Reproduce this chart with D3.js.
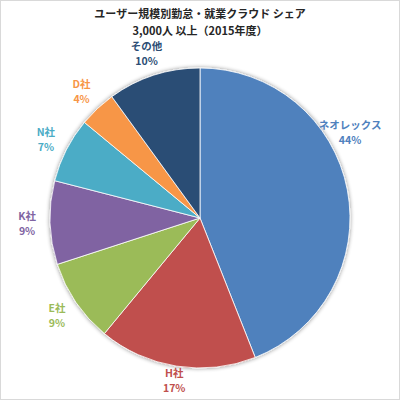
<!DOCTYPE html>
<html>
<head>
<meta charset="utf-8">
<script src="https://cdn.jsdelivr.net/npm/d3@7"></script>
<style>
  body { margin: 0; background: #fff; }
  svg { display: block; }
</style>
</head>
<body>
<svg width="400" height="400"></svg>
<script>
// data
var names = ["ネオレックス", "H社", "E社", "K社", "N社", "D社", "その他"];
var shares = [44, 17, 9, 9, 7, 4, 10];
var colors = ["#4F81BD", "#C0504D", "#9BBB59", "#8064A2", "#4BACC6", "#F79646", "#2C4D75"];
var titleLines = ["ユーザー規模別勤怠・就業クラウド シェア", "3,000人 以上（2015年度）"];

var width = 400, height = 400;
var cx = 200, cy = 218, radius = 150, labelRadius = 173;
var font = "'Noto Sans CJK JP', 'Noto Sans', sans-serif";

var svg = d3.select("svg");

// outer frame
svg.append("rect")
    .attr("x", 0.5).attr("y", 0.5)
    .attr("width", width - 1).attr("height", height - 1)
    .attr("fill", "#fff")
    .attr("stroke", "#d9d9d9");

// title
svg.append("g").selectAll("text")
    .data(titleLines)
  .enter().append("text")
    .attr("x", width / 2)
    .attr("y", function (d, i) { return 18 + i * 17; })
    .attr("text-anchor", "middle")
    .attr("font-family", font)
    .attr("font-size", 11)
    .attr("font-weight", "bold")
    .attr("fill", "#262626")
    .text(function (d) { return d; });

var data = names.map(function (n, i) { return {name: n, value: shares[i], color: colors[i]}; });

var pie = d3.pie()
    .sort(null)
    .value(function (d) { return d.value; });

var arc = d3.arc().innerRadius(0).outerRadius(radius);

var defs = svg.append("defs");
var filter = defs.append("filter").attr("id", "shadow")
    .attr("x", "-10%").attr("y", "-10%").attr("width", "120%").attr("height", "120%");
filter.append("feGaussianBlur").attr("in", "SourceAlpha").attr("stdDeviation", 2);
filter.append("feOffset").attr("dx", 0).attr("dy", 0).attr("result", "blur");
filter.append("feComponentTransfer").append("feFuncA").attr("type", "linear").attr("slope", 0.45);
var merge = filter.append("feMerge");
merge.append("feMergeNode");
merge.append("feMergeNode").attr("in", "SourceGraphic");

var main = svg.append("g")
    .attr("transform", "translate(" + cx + "," + cy + ")");

var arcs = pie(data);

main.append("g")
    .attr("filter", "url(#shadow)")
  .selectAll("path")
    .data(arcs)
  .enter().append("path")
    .attr("d", arc)
    .attr("fill", function (d) { return d.data.color; })
    .attr("stroke", "#fff")
    .attr("stroke-width", 0.8);

// labels, placed outside each slice; pulled back if they run off the frame
var labels = main.append("g").selectAll("g")
    .data(arcs)
  .enter().append("g")
    .attr("fill", function (d) { return d.data.color; })
    .attr("font-family", font)
    .attr("font-size", 10.5)
    .attr("font-weight", "bold")
    .attr("text-anchor", "middle");

labels.append("text")
    .attr("y", -3.5)
    .text(function (d) { return d.data.name; });
labels.append("text")
    .attr("y", 11.5)
    .text(function (d) { return d.data.value + "%"; });

labels.attr("transform", function (d) {
    var a = (d.startAngle + d.endAngle) / 2;
    var w = this.getBBox().width;
    var r = labelRadius;
    var x = r * Math.sin(a);
    while (cx + x + w / 2 > width - 18 && a > 0) {
        a -= Math.PI / 180;
        x = r * Math.sin(a);
    }
    var y = -r * Math.cos(a);
    while (cy + y + 15 > height - 4) {
        r -= 1;
        x = r * Math.sin(a);
        y = -r * Math.cos(a);
    }
    return "translate(" + x + "," + y + ")";
});
</script>
</body>
</html>
